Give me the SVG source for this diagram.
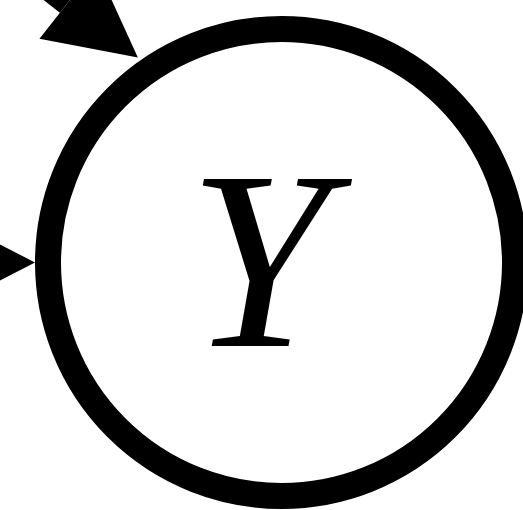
<svg xmlns="http://www.w3.org/2000/svg" width="523" height="510" viewBox="0 0 523 510">
<style>
.node{fill:#fff;stroke:#000;stroke-width:26}
.lbl{font-family:"Liberation Serif","Times New Roman",serif;font-style:italic;font-size:254px;fill:#000}
.edge{stroke:#000;stroke-width:26;fill:none}
</style>
<defs>
<marker id="ah" markerUnits="userSpaceOnUse" markerWidth="90" markerHeight="92" refX="0" refY="46" orient="auto" overflow="visible">
<path d="M0,0 L89,46 L0,92 Z" fill="#000"/>
</marker>
</defs>
<g id="connectors">
<line class="edge" x1="-60" y1="-98" x2="67.9" y2="2.6" marker-end="url(#ah)"/>
<line class="edge" x1="-150" y1="262.5" x2="-54" y2="262.5" marker-end="url(#ah)"/>
</g>
<g id="nodeY">
<circle class="node" cx="281.5" cy="262.5" r="233.5"/>
<text class="lbl" x="259" y="346" text-anchor="middle">Y</text>
</g>
</svg>
